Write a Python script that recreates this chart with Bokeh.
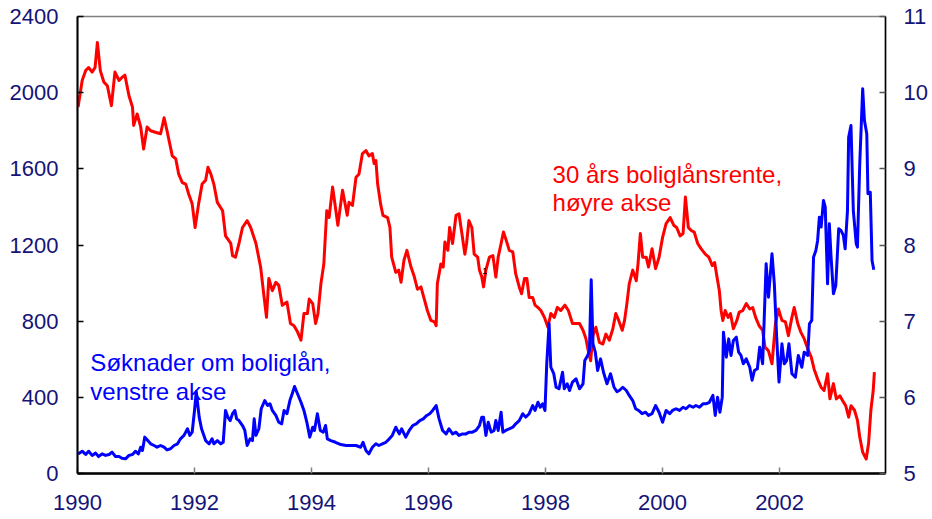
from bokeh.plotting import figure
from bokeh.models import Range1d, LinearAxis, FixedTicker, ColumnDataSource
from bokeh.embed import file_html
from bokeh.resources import INLINE
from bokeh.core.properties import value

# ---- data: 30-year mortgage rate (right axis, %) ----
rate_year = [1990.01, 1990.08, 1990.14, 1990.19, 1990.25, 1990.30, 1990.34, 1990.39, 1990.45, 1990.51,
             1990.58, 1990.64, 1990.71, 1990.76, 1990.81, 1990.88, 1990.94, 1990.96, 1991.02, 1991.08,
             1991.13, 1991.19, 1991.25, 1991.33, 1991.42, 1991.48, 1991.53, 1991.62, 1991.68, 1991.73,
             1991.79, 1991.85, 1991.90, 1991.96, 1992.01, 1992.07, 1992.13, 1992.19, 1992.23, 1992.28,
             1992.33, 1992.39, 1992.48, 1992.53, 1992.62, 1992.65, 1992.70, 1992.76, 1992.82, 1992.90,
             1992.96, 1993.05, 1993.13, 1993.19, 1993.23, 1993.27, 1993.33, 1993.39, 1993.44, 1993.50,
             1993.58, 1993.64, 1993.70, 1993.76, 1993.82, 1993.87, 1993.93, 1993.96, 1994.02, 1994.07,
             1994.11, 1994.16, 1994.21, 1994.26, 1994.30, 1994.36, 1994.40, 1994.45, 1994.53, 1994.61,
             1994.64, 1994.70, 1994.76, 1994.81, 1994.87, 1994.93, 1994.98, 1995.04, 1995.07, 1995.10,
             1995.13, 1995.18, 1995.22, 1995.30, 1995.34, 1995.37, 1995.44, 1995.49, 1995.53, 1995.58,
             1995.63, 1995.70, 1995.75, 1995.81, 1995.87, 1995.92, 1995.98, 1996.04, 1996.10, 1996.13,
             1996.15, 1996.21, 1996.25, 1996.28, 1996.33, 1996.36, 1996.41, 1996.47, 1996.52, 1996.57,
             1996.62, 1996.65, 1996.69, 1996.74, 1996.78, 1996.84, 1996.87, 1996.91, 1996.94, 1996.98,
             1997.04, 1997.10, 1997.15, 1997.19, 1997.24, 1997.28, 1997.32, 1997.38, 1997.44, 1997.49,
             1997.55, 1997.59, 1997.64, 1997.68, 1997.72, 1997.78, 1997.82, 1997.87, 1997.92, 1997.98,
             1998.04, 1998.09, 1998.15, 1998.20, 1998.26, 1998.33, 1998.39, 1998.46, 1998.52, 1998.58,
             1998.64, 1998.69, 1998.73, 1998.77, 1998.81, 1998.86, 1998.92, 1998.98, 1999.03, 1999.09,
             1999.15, 1999.20, 1999.25, 1999.31, 1999.35, 1999.39, 1999.43, 1999.49, 1999.55, 1999.58,
             1999.62, 1999.66, 1999.72, 1999.76, 1999.82, 1999.88, 1999.94, 2000.00, 2000.06, 2000.13,
             2000.19, 2000.24, 2000.30, 2000.35, 2000.39, 2000.44, 2000.49, 2000.54, 2000.60, 2000.66,
             2000.73, 2000.79, 2000.85, 2000.89, 2000.93, 2000.97, 2001.00, 2001.03, 2001.07, 2001.12,
             2001.16, 2001.21, 2001.27, 2001.31, 2001.37, 2001.43, 2001.49, 2001.54, 2001.59, 2001.65,
             2001.71, 2001.75, 2001.81, 2001.87, 2001.93, 2001.98, 2002.04, 2002.10, 2002.15, 2002.21,
             2002.25, 2002.31, 2002.36, 2002.42, 2002.48, 2002.54, 2002.59, 2002.65, 2002.71, 2002.76,
             2002.82, 2002.86, 2002.92, 2002.97, 2003.03, 2003.09, 2003.13, 2003.18, 2003.22, 2003.28,
             2003.33, 2003.37, 2003.42, 2003.48, 2003.52, 2003.56, 2003.60, 2003.62]
rate_value = [9.81, 10.16, 10.29, 10.33, 10.27, 10.33, 10.66, 10.29, 10.14, 10.09,
              9.83, 10.27, 10.16, 10.20, 10.23, 9.96, 9.81, 9.57, 9.72, 9.55,
              9.26, 9.55, 9.50, 9.48, 9.46, 9.67, 9.50, 9.17, 9.13, 8.93,
              8.82, 8.80, 8.67, 8.54, 8.23, 8.54, 8.80, 8.85, 9.02, 8.93,
              8.80, 8.56, 8.45, 8.12, 8.02, 7.86, 7.84, 8.02, 8.23, 8.32,
              8.23, 8.02, 7.71, 7.31, 7.05, 7.56, 7.40, 7.51, 7.47, 7.21,
              7.25, 6.97, 6.94, 6.86, 6.75, 7.10, 7.10, 7.29, 7.23, 6.97,
              7.10, 7.49, 7.75, 8.45, 8.36, 8.76, 8.54, 8.26, 8.72, 8.39,
              8.56, 8.52, 8.89, 8.93, 9.20, 9.24, 9.17, 9.20, 9.07, 9.11,
              8.80, 8.54, 8.39, 8.36, 8.23, 7.84, 7.64, 7.67, 7.51, 7.80,
              7.93, 7.71, 7.60, 7.42, 7.45, 7.31, 7.14, 7.01, 6.99, 6.94,
              7.49, 7.75, 7.71, 8.04, 7.93, 8.23, 8.02, 8.39, 8.41, 8.15,
              7.88, 8.02, 8.32, 8.23, 7.88, 7.84, 7.67, 7.58, 7.45, 7.67,
              7.84, 7.86, 7.58, 7.84, 8.02, 8.17, 8.08, 7.93, 7.91, 7.62,
              7.45, 7.36, 7.56, 7.56, 7.31, 7.31, 7.21, 7.18, 7.14, 7.05,
              6.92, 7.10, 7.05, 7.18, 7.14, 7.21, 7.14, 6.97, 6.97, 6.97,
              6.88, 6.77, 6.61, 6.48, 6.81, 6.92, 6.72, 6.70, 6.83, 6.75,
              6.90, 7.10, 7.01, 6.88, 7.01, 7.23, 7.49, 7.67, 7.53, 7.75,
              8.15, 7.84, 7.84, 7.71, 7.95, 7.69, 7.84, 8.10, 8.28, 8.36,
              8.26, 8.23, 8.12, 8.15, 8.63, 8.23, 8.19, 8.17, 8.02, 7.95,
              7.88, 7.84, 7.73, 7.77, 7.58, 7.40, 7.14, 7.01, 7.14, 7.05,
              7.10, 6.90, 7.01, 7.12, 7.14, 7.23, 7.16, 7.18, 7.05, 6.94,
              6.88, 6.66, 6.61, 6.44, 6.97, 7.16, 7.01, 6.99, 6.81, 7.05,
              7.18, 6.97, 6.86, 6.77, 6.64, 6.53, 6.37, 6.24, 6.13, 6.09,
              6.31, 5.98, 6.18, 5.98, 6.02, 5.94, 5.89, 5.74, 5.89, 5.83,
              5.70, 5.48, 5.28, 5.19, 5.39, 5.83, 6.09, 6.33]

# ---- data: mortgage applications (left axis) ----
app_year = [1990.01, 1990.08, 1990.14, 1990.19, 1990.25, 1990.31, 1990.36, 1990.42, 1990.48, 1990.54,
            1990.59, 1990.65, 1990.71, 1990.76, 1990.82, 1990.88, 1990.94, 1990.99, 1991.04, 1991.08,
            1991.11, 1991.15, 1991.19, 1991.25, 1991.31, 1991.36, 1991.42, 1991.48, 1991.53, 1991.59,
            1991.65, 1991.71, 1991.76, 1991.82, 1991.88, 1991.92, 1991.96, 1992.00, 1992.03, 1992.08,
            1992.12, 1992.19, 1992.25, 1992.30, 1992.33, 1992.39, 1992.45, 1992.49, 1992.53, 1992.57,
            1992.61, 1992.65, 1992.69, 1992.72, 1992.76, 1992.82, 1992.86, 1992.90, 1992.95, 1992.99,
            1993.02, 1993.05, 1993.10, 1993.14, 1993.20, 1993.25, 1993.29, 1993.33, 1993.39, 1993.44,
            1993.49, 1993.53, 1993.58, 1993.63, 1993.67, 1993.71, 1993.76, 1993.82, 1993.87, 1993.92,
            1993.97, 1994.02, 1994.05, 1994.10, 1994.15, 1994.20, 1994.24, 1994.27, 1994.33, 1994.41,
            1994.50, 1994.59, 1994.67, 1994.76, 1994.84, 1994.88, 1994.93, 1994.98, 1995.04, 1995.10,
            1995.15, 1995.21, 1995.27, 1995.33, 1995.38, 1995.44, 1995.50, 1995.54, 1995.61, 1995.67,
            1995.73, 1995.79, 1995.85, 1995.91, 1995.97, 1996.02, 1996.07, 1996.13, 1996.18, 1996.24,
            1996.30, 1996.35, 1996.41, 1996.47, 1996.52, 1996.58, 1996.64, 1996.69, 1996.75, 1996.81,
            1996.87, 1996.91, 1996.94, 1996.98, 1997.02, 1997.07, 1997.12, 1997.15, 1997.19, 1997.24,
            1997.27, 1997.32, 1997.38, 1997.44, 1997.49, 1997.55, 1997.61, 1997.66, 1997.72, 1997.78,
            1997.82, 1997.87, 1997.91, 1997.95, 1997.99, 1998.02, 1998.06, 1998.09, 1998.14, 1998.18,
            1998.23, 1998.29, 1998.32, 1998.37, 1998.41, 1998.46, 1998.52, 1998.58, 1998.64, 1998.67,
            1998.72, 1998.75, 1998.78, 1998.81, 1998.85, 1998.89, 1998.94, 1998.99, 1999.05, 1999.11,
            1999.17, 1999.22, 1999.26, 1999.32, 1999.38, 1999.43, 1999.49, 1999.54, 1999.59, 1999.65,
            1999.71, 1999.76, 1999.82, 1999.88, 1999.94, 2000.00, 2000.06, 2000.12, 2000.17, 2000.23,
            2000.29, 2000.35, 2000.40, 2000.46, 2000.52, 2000.57, 2000.63, 2000.69, 2000.74, 2000.80,
            2000.86, 2000.90, 2000.94, 2000.98, 2001.02, 2001.04, 2001.09, 2001.13, 2001.17, 2001.21,
            2001.26, 2001.30, 2001.34, 2001.38, 2001.43, 2001.49, 2001.53, 2001.57, 2001.62, 2001.66,
            2001.71, 2001.74, 2001.77, 2001.81, 2001.87, 2001.91, 2001.95, 2001.99, 2002.04, 2002.08,
            2002.12, 2002.16, 2002.21, 2002.27, 2002.32, 2002.38, 2002.42, 2002.48, 2002.51, 2002.55,
            2002.58, 2002.62, 2002.65, 2002.68, 2002.71, 2002.75, 2002.78, 2002.82, 2002.85, 2002.88,
            2002.92, 2002.96, 2003.01, 2003.05, 2003.09, 2003.12, 2003.16, 2003.18, 2003.22, 2003.26,
            2003.31, 2003.33, 2003.37, 2003.42, 2003.45, 2003.49, 2003.51, 2003.55, 2003.58, 2003.61]
app_value = [103, 117, 100, 117, 95, 107, 89, 103, 95, 100,
             112, 89, 89, 80, 77, 95, 100, 117, 103, 138,
             121, 191, 177, 156, 147, 138, 147, 138, 124, 130,
             147, 156, 182, 200, 235, 200, 217, 331, 430, 296,
             235, 173, 156, 182, 156, 173, 156, 164, 331, 296,
             278, 314, 331, 287, 278, 252, 226, 147, 182, 173,
             287, 200, 235, 340, 383, 357, 366, 331, 305, 269,
             261, 331, 314, 383, 419, 457, 419, 374, 331, 269,
             191, 243, 226, 314, 226, 217, 252, 182, 173, 164,
             152, 147, 147, 147, 138, 164, 121, 103, 138, 156,
             147, 156, 164, 182, 200, 243, 208, 235, 191, 226,
             252, 261, 278, 287, 305, 314, 331, 357, 287, 226,
             208, 235, 208, 217, 200, 208, 208, 217, 217, 226,
             252, 296, 296, 200, 269, 217, 226, 278, 226, 322,
             217, 226, 235, 243, 261, 278, 314, 296, 314, 357,
             331, 374, 348, 366, 331, 576, 786, 558, 524, 453,
             445, 532, 445, 471, 436, 480, 497, 445, 471, 593,
             620, 646, 1017, 681, 637, 541, 602, 532, 471, 524,
             453, 430, 436, 453, 436, 410, 383, 340, 331, 314,
             322, 305, 314, 357, 322, 269, 331, 314, 331, 340,
             331, 348, 340, 357, 348, 357, 348, 366, 366, 374,
             410, 305, 401, 322, 401, 742, 611, 707, 620, 699,
             716, 637, 620, 576, 602, 558, 490, 541, 550, 663,
             576, 839, 1101, 926, 1154, 996, 716, 480, 681, 576,
             593, 681, 524, 506, 620, 558, 637, 620, 786, 804,
             1136, 1171, 1224, 1346, 1294, 1434, 1399, 996, 1311, 1136,
             944, 987, 1285, 1276, 1250, 1180, 1381, 1766, 1828, 1381,
             1206, 1189, 1627, 2020, 1854, 1784, 1469, 1477, 1119, 1070]

year_ticks = [1990, 1992, 1994, 1996, 1998, 2000, 2002]
left_ticks = [0, 400, 800, 1200, 1600, 2000, 2400]
right_ticks = [5, 6, 7, 8, 9, 10, 11]

rate_label = ["30 års boliglånsrente,", "høyre akse"]
app_label = ["Søknader om boliglån,", "venstre akse"]

FONT = "Liberation Sans"
TICK_COLOR = "#141478"

p = figure(width=932, height=519, output_backend="svg", toolbar_location=None,
           x_range=Range1d(1990, 2003.81), y_range=Range1d(0, 2400),
           min_border_left=77, min_border_right=47, min_border_top=16, min_border_bottom=46)
p.extra_y_ranges = {"rate": Range1d(5, 11)}
p.grid.visible = False
p.outline_line_color = "#808080"
p.outline_line_width = 1.5

right_axis = LinearAxis(y_range_name="rate")
p.add_layout(right_axis, "right")

for ax in [p.xaxis[0], p.yaxis[0], right_axis]:
    ax.major_label_text_font = FONT
    ax.major_label_text_font_size = "22px"
    ax.major_label_text_color = TICK_COLOR
    ax.minor_tick_line_color = None
    ax.major_tick_in = 6
    ax.major_tick_out = 0

p.xaxis.ticker = FixedTicker(ticks=year_ticks)
p.xaxis.axis_line_color = "black"
p.xaxis.axis_line_width = 2.5
p.xaxis.major_tick_line_color = "#808080"
p.xaxis.major_tick_line_width = 1.5
p.xaxis.major_label_standoff = 21

p.yaxis[0].ticker = FixedTicker(ticks=left_ticks)
p.yaxis[0].axis_line_color = "black"
p.yaxis[0].axis_line_width = 2
p.yaxis[0].major_tick_line_color = "black"
p.yaxis[0].major_tick_line_width = 1.5
p.yaxis[0].major_label_standoff = 19

right_axis.ticker = FixedTicker(ticks=right_ticks)
right_axis.axis_line_color = "black"
right_axis.axis_line_width = 1.5
right_axis.major_tick_line_color = "#555555"
right_axis.major_tick_line_width = 1.5
right_axis.major_label_standoff = 18

rate_src = ColumnDataSource(dict(x=rate_year, y=rate_value))
app_src = ColumnDataSource(dict(x=app_year, y=app_value))

p.line("x", "y", source=rate_src, y_range_name="rate", line_color="#FF0000",
       line_width=3, line_join="round")
p.line("x", "y", source=app_src, line_color="#0000FF", line_width=3, line_join="round")

p.text(x=[1998.12, 1998.12], y=[1570, 1425], text=rate_label,
       text_font=value(FONT), text_font_size="24px", text_color="#FF0000",
       text_baseline="alphabetic", text_align="left")
p.text(x=[1990.22, 1990.22], y=[583, 431], text=app_label,
       text_font=value(FONT), text_font_size="24px", text_color="#0000FF",
       text_baseline="alphabetic", text_align="left")
p.text(x=[1996.96], y=[1066], text=["1"], text_font=value(FONT), text_font_size="9px",
       text_color="black", text_baseline="middle", text_align="center")

open("out.html", "w").write(file_html(p, INLINE))
